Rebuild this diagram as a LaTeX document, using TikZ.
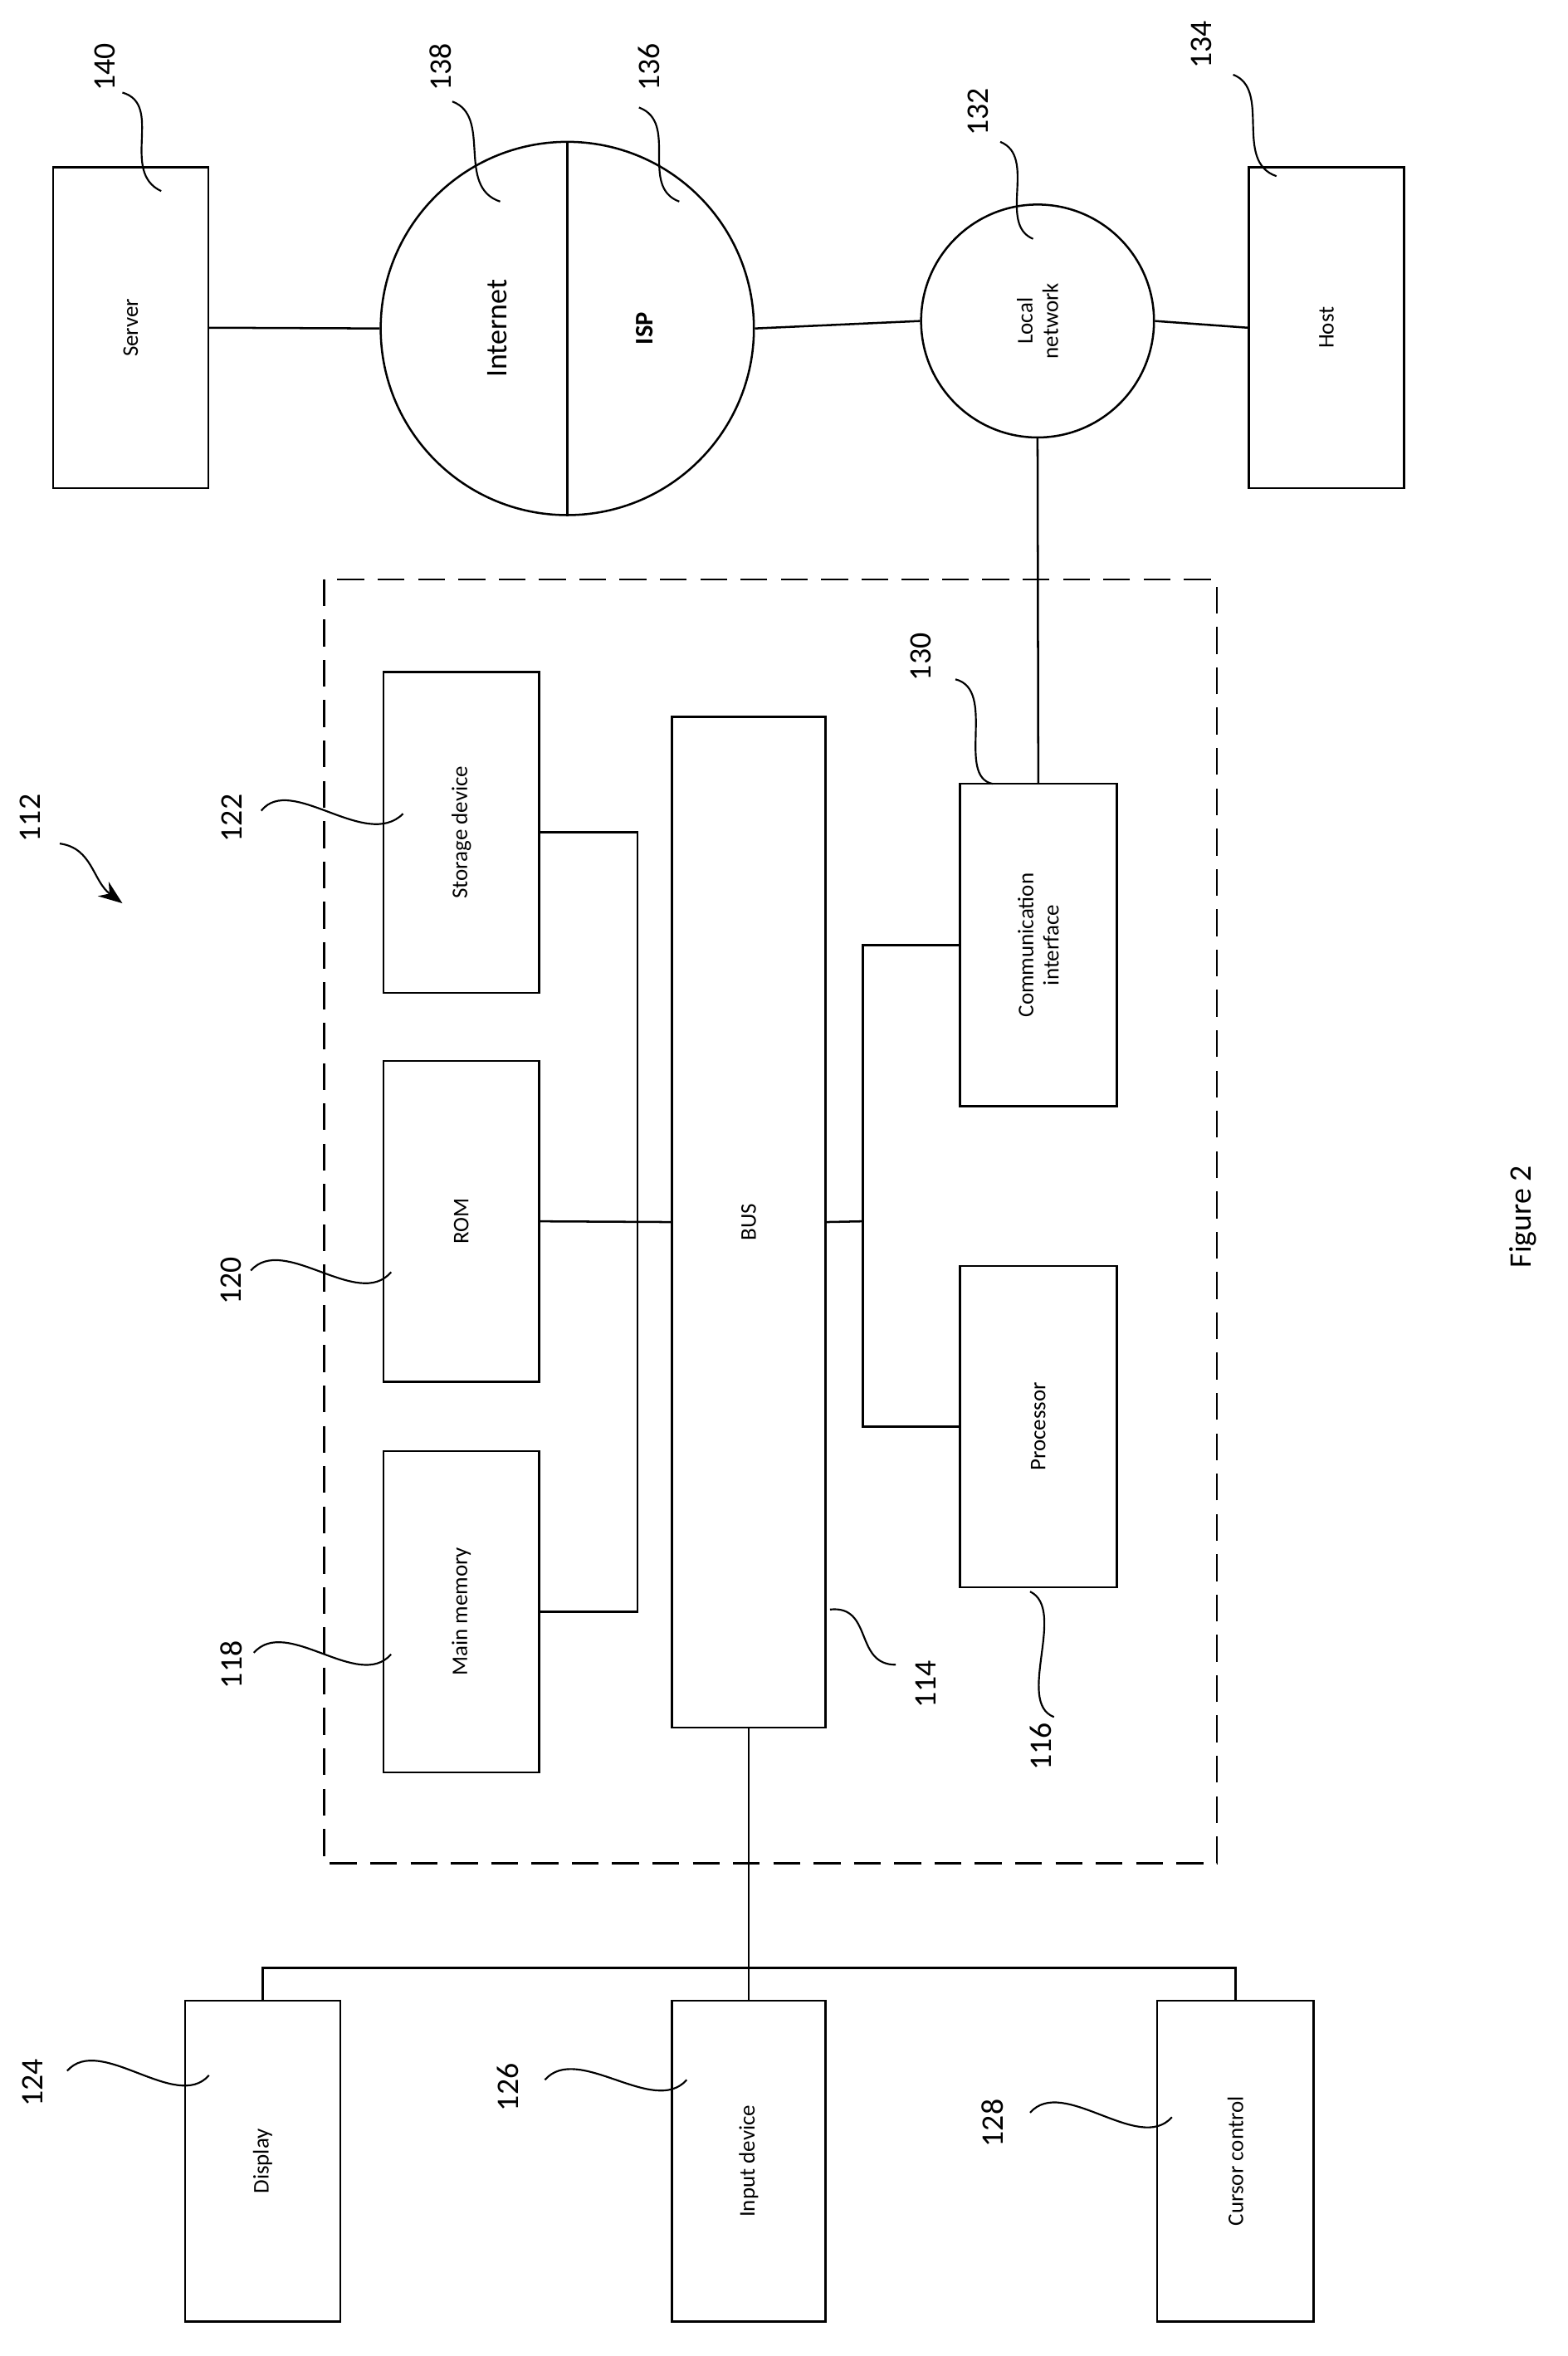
\documentclass[tikz,border=0pt]{standalone}
\usepackage{fontspec}
\setmainfont{Carlito}
\usetikzlibrary{arrows.meta}
\begin{document}
\begin{tikzpicture}[x=1pt,y=-1pt,line width=1.4pt,
 box/.style={draw,fill=white,minimum width=104pt,minimum height=215pt,inner sep=0pt},
 lbl/.style={rotate=90,font=\fontsize{15}{17}\selectfont},
 num/.style={rotate=90,font=\fontsize{21}{23}\selectfont},
 sq/.style={line width=1.2pt}]
\useasboundingbox (0,0) rectangle (1050,1578);
% top row
\node[box] (server) at (87.5,219.5) {};
\node[lbl] at (server) {Server};
\node[draw,circle,minimum size=250pt,inner sep=0pt] (net) at (380,220) {};
\draw (net.north) -- (net.south);
\node[rotate=90,font=\fontsize{20}{22}\selectfont] at (333,220) {Internet};
\node[rotate=90,font=\bfseries\fontsize{17}{19}\selectfont] at (432,220) {ISP};
\node[draw,circle,minimum size=156pt,inner sep=0pt] (loc) at (695,215) {};
\node[lbl,align=center] at (loc) {Local\\network};
\node[box] (host) at (888.5,219.5) {};
\node[lbl] at (host) {Host};
\draw (server.east) -- (net.west);
\draw (net.east) -- (loc.west);
\draw (loc.east) -- (host.west);
% dashed
\draw[dash pattern=on 18pt off 9pt] (217,388) rectangle (815,1248);
\node[box] (stor) at (309,557.5) {}; \node[lbl] at (stor) {Storage device};
\node[box] (rom) at (309,818) {}; \node[lbl] at (rom) {ROM};
\node[box] (mm) at (309,1079.5) {}; \node[lbl] at (mm) {Main memory};
\node[box,minimum width=103pt,minimum height=677pt] (bus) at (501.5,818.5) {}; \node[lbl] at (bus) {BUS};
\node[box,minimum width=105pt,minimum height=216pt] (comm) at (695.5,633) {}; \node[lbl,align=center] at (comm) {Communication\\interface};
\node[box,minimum width=105pt] (proc) at (695.5,955.5) {}; \node[lbl] at (proc) {Processor};
\coordinate (s1) at (427,557.5); \coordinate (s2) at (427,1079.5);
\draw (stor.east) -- (s1) -- (s2) -- (mm.east);
\draw (rom.east) -- (bus.west);
\coordinate (b1) at (578,818); \coordinate (b2) at (578,633); \coordinate (b3) at (578,955.5);
\draw (bus.east) -- (b1);
\draw (comm.west) -- (b2) -- (b3) -- (proc.west);
\draw (loc.south) -- (comm.north);
% bottom
\node[box] (disp) at (176,1447.5) {}; \node[lbl] at (disp) {Display};
\node[box,minimum width=103pt] (inp) at (501.5,1447.5) {}; \node[lbl] at (inp) {Input device};
\node[box,minimum width=105pt] (cur) at (827.5,1447.5) {}; \node[lbl] at (cur) {Cursor control};
\coordinate (jl) at (176,1318); \coordinate (jr) at (827.5,1318);
\draw (bus.south) -- (inp.north);
\draw (disp.north) -- (jl) -- (jr) -- (cur.north);
% numbers
\node[num] at (70,45) {140};
\node[num] at (295,45) {138};
\node[num] at (435,45) {136};
\node[num] at (655,75) {132};
\node[num] at (805,30) {134};
\node[num] at (155,548) {122};
\node[num] at (155,858) {120};
\node[num] at (155,1115) {118};
\node[num] at (620,1128) {114};
\node[num] at (617,440) {130};
\node[num] at (697,1170) {116};
\node[num] at (22,1395) {124};
\node[num] at (340,1398) {126};
\node[num] at (665,1422) {128};
\node[num] at (20,548) {112};
\node[rotate=90,font=\fontsize{21}{23}\selectfont] at (1020,815) {Figure 2};
% squiggles
\draw[sq] (82,62) .. controls (110,70) and (80,115) .. (108,128);
\draw[sq] (303,68) .. controls (330,78) and (305,125) .. (335,135);
\draw[sq] (428,72) .. controls (455,82) and (428,125) .. (455,135);
\draw[sq] (670,95) .. controls (695,105) and (668,150) .. (692,160);
\draw[sq] (826,50) .. controls (852,60) and (826,108) .. (855,118);
\draw[sq] (175,543) .. controls (195,518) and (245,570) .. (270,545);
\draw[sq] (168,851) .. controls (190,826) and (240,878) .. (262,852);
\draw[sq] (170,1107) .. controls (192,1082) and (240,1133) .. (262,1108);
\draw[sq] (556,1078) .. controls (585,1075) and (572,1115) .. (600,1115);
\draw[sq] (640,455) .. controls (668,462) and (640,520) .. (665,525);
\draw[sq] (690,1066) .. controls (715,1078) and (680,1140) .. (706,1150);
\draw[sq] (45,1387) .. controls (67,1362) and (118,1415) .. (140,1390);
\draw[sq] (365,1393) .. controls (387,1368) and (438,1418) .. (460,1393);
\draw[sq] (690,1415) .. controls (712,1390) and (763,1443) .. (785,1418);
\draw[line width=1.2pt,-{Stealth[length=16pt,width=12pt]}] (40,565) .. controls (62,568) and (62,590) .. (82,605);
\end{tikzpicture}
\end{document}
